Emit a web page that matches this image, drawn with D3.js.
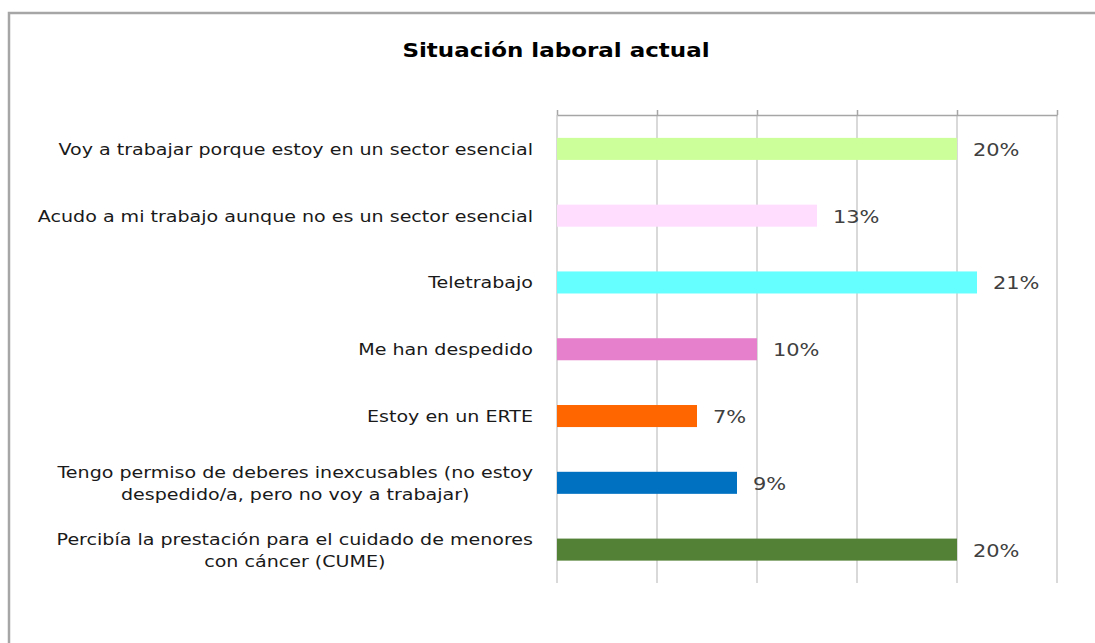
<!DOCTYPE html>
<html>
<head>
<meta charset="utf-8">
<script src="https://cdn.jsdelivr.net/npm/d3@7"></script>
<style>
  html, body { margin: 0; padding: 0; background: #fff; }
  svg { display: block; }
</style>
</head>
<body>
<svg id="chart" width="1095" height="643"></svg>
<script>
const title = "Situación laboral actual";
const categories = [
  ["Voy a trabajar porque estoy en un sector esencial"],
  ["Acudo a mi trabajo aunque no es un sector esencial"],
  ["Teletrabajo"],
  ["Me han despedido"],
  ["Estoy en un ERTE"],
  ["Tengo permiso de deberes inexcusables (no estoy", "despedido/a, pero no voy a trabajar)"],
  ["Percibía la prestación para el cuidado de menores", "con cáncer (CUME)"]
];
const values = [0.20, 0.13, 0.21, 0.10, 0.07, 0.09, 0.20];
const colors = ["#CCFF99", "#FFDDFF", "#66FFFF", "#E680CC", "#FF6600", "#0070C0", "#538135"];
const xTicks = [0, 0.05, 0.10, 0.15, 0.20, 0.25];

const svg = d3.select("#chart");
const font = "'DejaVu Sans', sans-serif";
const sx = 1.23; // horizontal stretch of the original rendering

// chart frame
svg.append("path")
  .attr("d", "M9,643 L9,13 L1095,13")
  .attr("fill", "none").attr("stroke", "#a6a6a6").attr("stroke-width", 2.5);

svg.append("g").attr("transform", `translate(556,57) scale(1.21,1)`)
  .append("text")
  .attr("text-anchor", "middle")
  .attr("font-family", font).attr("font-weight", "bold").attr("font-size", 19)
  .attr("fill", "#000")
  .text(title);

const x = d3.scaleLinear().domain([0, 0.25]).range([557, 1057]);
const y = d3.scaleBand().domain(d3.range(categories.length))
  .range([115.5, 583]).paddingInner(0.67).paddingOuter(0.335);

// gridlines
svg.append("g").selectAll("line").data(xTicks).join("line")
  .attr("x1", d => x(d)).attr("x2", d => x(d))
  .attr("y1", 115).attr("y2", 583)
  .attr("stroke", "#d9d9d9").attr("stroke-width", 2);

// top axis
const axis = svg.append("g").attr("transform", "translate(0,115)")
  .call(d3.axisTop(x).tickValues(xTicks).tickSize(5).tickSizeOuter(0).tickFormat(""));
axis.select(".domain").attr("stroke", "#a6a6a6").attr("stroke-width", 1.5);
axis.selectAll(".tick line").attr("stroke", "#a6a6a6").attr("stroke-width", 1.5);

// bars
svg.append("g").selectAll("rect").data(values).join("rect")
  .attr("x", x(0))
  .attr("y", (d, i) => y(i))
  .attr("width", d => x(d) - x(0))
  .attr("height", y.bandwidth())
  .attr("fill", (d, i) => colors[i]);

// value labels
svg.append("g").selectAll("g").data(values).join("g")
  .attr("transform", (d, i) => `translate(${x(d) + 16},${y(i) + y.bandwidth() / 2 + 7}) scale(${sx},1)`)
  .append("text")
  .attr("font-family", font).attr("font-size", 17)
  .attr("fill", "#404040")
  .text(d => Math.round(d * 100) + "%");

// category labels
const lineH = 22;
const cat = svg.append("g");
categories.forEach((lines, i) => {
  const cy = y(i) + y.bandwidth() / 2;
  const g = cat.append("g").attr("transform", `translate(533,${cy}) scale(${sx},1)`);
  const t = g.append("text")
    .attr("font-family", font).attr("font-size", 15.5)
    .attr("fill", "#1a1a1a")
    .attr("text-anchor", "middle");
  lines.forEach((ln, k) => {
    t.append("tspan").attr("y", 6 + (k - (lines.length - 1) / 2) * lineH).text(ln);
  });
  const tsp = t.selectAll("tspan").nodes();
  const w = d3.max(tsp, n => n.getComputedTextLength());
  t.selectAll("tspan").attr("x", -w / 2);
});
</script>
</body>
</html>
